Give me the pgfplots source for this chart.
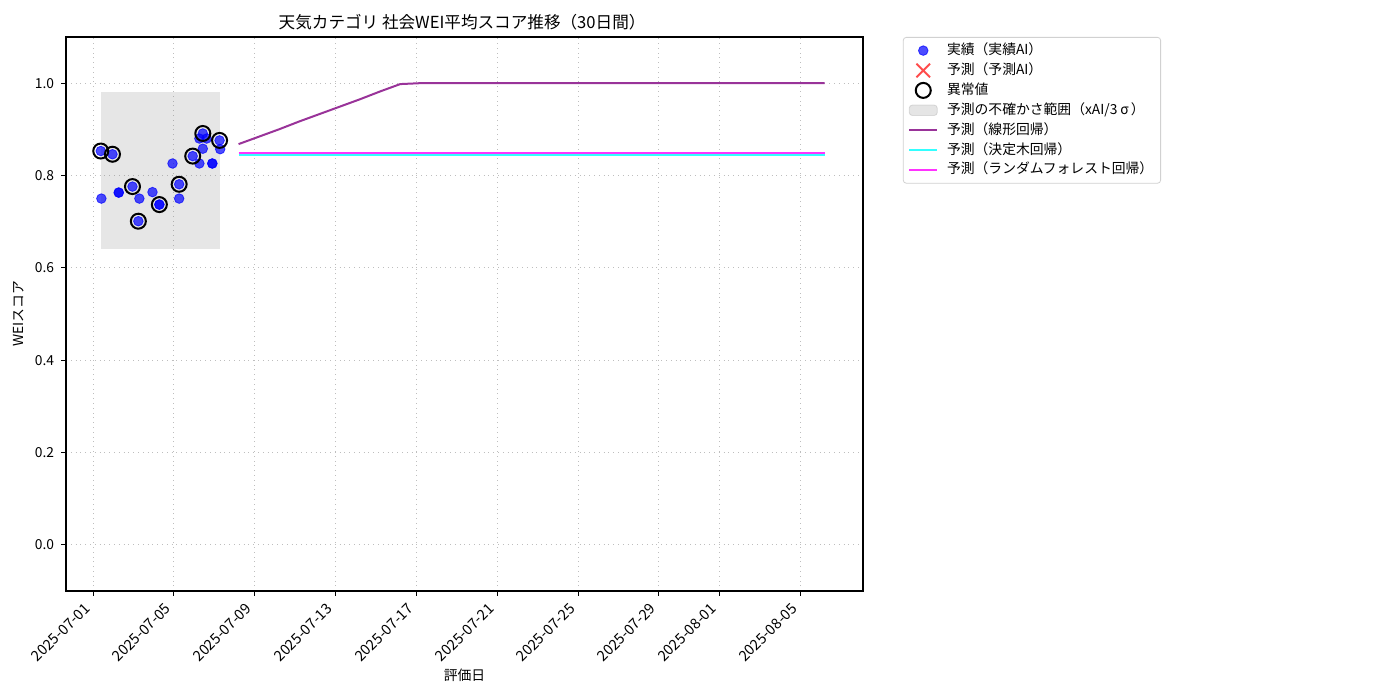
\documentclass[border=0pt]{standalone}
\usepackage{fontspec}
\setmainfont{Noto Sans CJK JP}
\usepackage{pgfplots}
\pgfplotsset{compat=1.18}
\definecolor{lpurple}{RGB}{153,51,153}
\definecolor{lcyan}{RGB}{51,255,255}
\definecolor{lmagenta}{RGB}{255,51,255}
\definecolor{gridc}{RGB}{190,190,190}
\pgfplotsset{
  linelegend/.style={legend image code/.code={\draw[##1] (0pt,0pt) -- (14pt,0pt);}},
  marklegend/.style={legend image code/.code={\draw[mark repeat=2,mark phase=2,##1] plot coordinates {(0pt,0pt) (7pt,0pt) (14pt,0pt)};}},
  arealegend/.style={legend image code/.code={\draw[##1] (0pt,-2.6pt) rectangle (14pt,2.6pt);}},
}
\newcommand{\smallf}{\fontsize{6.9}{8}\selectfont}
\begin{document}
\begin{tikzpicture}
\path[use as bounding box] (-33pt,-54.5pt) rectangle (667pt,295.5pt);
\begin{axis}[
  at={(0pt,0pt)}, anchor=south west,
  scale only axis, width=398.5pt, height=277pt,
  xmin=-1.34, xmax=38.1, ymin=-0.1, ymax=1.1,
  xtick={0,4,8,12,16,20,24,28,31,35},
  xticklabels={2025-07-01,2025-07-05,2025-07-09,2025-07-13,2025-07-17,2025-07-21,2025-07-25,2025-07-29,2025-08-01,2025-08-05},
  ytick={0,0.2,0.4,0.6,0.8,1.0},
  yticklabel style={/pgf/number format/.cd, fixed, fixed zerofill, precision=1},
  /pgf/number format/assume math mode=true,
  ticklabel style={font=\smallf},
  xticklabel style={font=\fontsize{7.3}{8}\selectfont, yshift=-7pt, xshift=-0.8pt, rotate=45, anchor=south east, inner sep=0pt},
  tick align=outside, major tick length=2.4pt,
  tick style={black, line width=0.5pt},
  axis line style={line width=0.55pt},
  xtick pos=bottom, ytick pos=left,
  grid=major, grid style={gridc, dotted, line width=0.45pt},
  xlabel={評価日},
  xlabel style={font=\smallf, at={(axis description cs:0.5,-0.153)}, anchor=center},
  ylabel={WEIスコア},
  ylabel style={font=\smallf, at={(axis description cs:-0.059,0.5)}, anchor=center, rotate=0},
  legend style={at={(axis description cs:1.05,1.0)}, anchor=north west, font=\smallf,
    draw=black!18, rounded corners=1.5pt, inner xsep=2.5pt, inner ysep=1.8pt,
    row sep=0.35pt, column sep=3.2pt, cells={anchor=west},
    nodes={inner sep=1.2pt, text height=5.6pt, text depth=1.6pt}},
  legend cell align=left,
  clip=false,
]
% uncertainty band
\addplot[forget plot, fill=gray, fill opacity=0.2, draw=none] coordinates {
  (0.40,0.64) (6.26,0.64) (6.26,0.98) (0.40,0.98)} -- cycle;
% actual values
\addplot[forget plot, only marks, mark=*, mark size=2.4pt,
  mark options={draw=blue, fill=blue, opacity=0.7}] table {
x y
0.38 0.853
0.96 0.846
0.41 0.750
1.27 0.763
1.27 0.763
1.95 0.776
2.29 0.750
2.94 0.764
2.24 0.701
3.28 0.737
3.28 0.737
3.93 0.826
4.26 0.781
4.26 0.750
4.93 0.842
5.26 0.826
5.43 0.858
5.43 0.891
5.26 0.880
5.62 0.880
5.90 0.826
5.90 0.826
6.26 0.876
6.29 0.857
};
% anomalies
\addplot[forget plot, only marks, mark=o, mark size=3.75pt,
  mark options={draw=black, line width=1pt}] table {
x y
0.38 0.853
0.96 0.846
1.95 0.776
2.24 0.701
3.28 0.737
4.26 0.781
4.93 0.842
5.43 0.891
6.26 0.876
};
% linear regression
\addplot[forget plot, lpurple, line width=1pt] table {
x y
7.2 0.868
8.2 0.884
9.2 0.900
10.2 0.917
11.2 0.933
12.2 0.949
13.2 0.965
14.2 0.982
15.2 0.998
16.2 1.000
36.2 1.000
};
% decision tree
\addplot[forget plot, lcyan, line width=1pt] table {
x y
7.2 0.845
36.2 0.845
};
% random forest
\addplot[forget plot, lmagenta, line width=1pt] table {
x y
7.2 0.848
36.2 0.848
};
\node[font=\fontsize{8.3}{10}\selectfont, anchor=center] at (axis description cs:0.497,1.027) {天気カテゴリ 社会WEI平均スコア推移（30日間）};
% legend
\addlegendimage{marklegend, only marks, mark=*, mark size=2.4pt, mark options={draw=blue, fill=blue, opacity=0.7}}
\addlegendentry{実績（実績AI）}
\addlegendimage{marklegend, only marks, mark=x, mark size=4.8pt, mark options={draw=red, opacity=0.7, line width=0.9pt}}
\addlegendentry{予測（予測AI）}
\addlegendimage{marklegend, only marks, mark=o, mark size=3.75pt, mark options={draw=black, line width=1pt}}
\addlegendentry{異常値}
\addlegendimage{arealegend, fill=gray, fill opacity=0.2, draw=gray, draw opacity=0.25}
\addlegendentry{予測の不確かさ範囲（xAI/3\hspace{1.5pt}σ\hspace{1pt}）}
\addlegendimage{linelegend, lpurple, line width=1pt}
\addlegendentry{予測（線形回帰）}
\addlegendimage{linelegend, lcyan, line width=1pt}
\addlegendentry{予測（決定木回帰）}
\addlegendimage{linelegend, lmagenta, line width=1pt}
\addlegendentry{予測（ランダムフォレスト回帰）}
\end{axis}
\end{tikzpicture}
\end{document}
